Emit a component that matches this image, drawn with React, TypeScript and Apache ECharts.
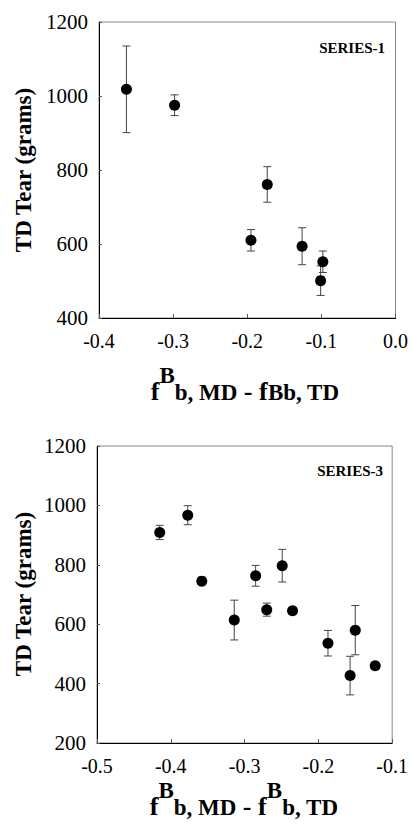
import React, { useEffect, useRef } from "react";
import * as echarts from "echarts";

// Series-1 (top panel)
const s1X = [-0.363, -0.298, -0.173, -0.195, -0.126, -0.098, -0.101];
const s1Y = [1018, 975, 761, 610, 594, 552, 501];
const s1Err = [117, 28, 48, 29, 50, 29, 40];

// Series-3 (bottom panel)
const s3X = [-0.415, -0.377, -0.358, -0.314, -0.285, -0.249, -0.27, -0.235, -0.187, -0.15, -0.157, -0.123];
const s3Y = [909, 967, 745, 614, 763, 797, 649, 645, 536, 580, 427, 460];
const s3Err = [24, 32, 0, 67, 35, 55, 22, 0, 43, 83, 65, 0];

const panelLabels = ["SERIES-1", "SERIES-3"];
const yTitle = "TD Tear (grams)";

const FONT = "Liberation Serif";

function errRender(params: any, api: any) {
  const x = api.value(0);
  const y = api.value(1);
  const e = api.value(2);
  if (!e) return { type: "group", children: [] };
  const top = api.coord([x, y + e]);
  const bot = api.coord([x, y - e]);
  const st = { stroke: "#444", lineWidth: 1 };
  return {
    type: "group",
    children: [
      { type: "line", shape: { x1: top[0], y1: top[1], x2: bot[0], y2: bot[1] }, style: st },
      { type: "line", shape: { x1: top[0] - 4, y1: top[1], x2: top[0] + 4, y2: top[1] }, style: st },
      { type: "line", shape: { x1: bot[0] - 4, y1: bot[1], x2: bot[0] + 4, y2: bot[1] }, style: st },
    ],
  };
}

function xTitle(x: number, y: number, raisedSecond: boolean) {
  const second = raisedSecond ? "{f| - f}{sup|B}{sub|b, TD}" : "{f| - f}{sub|Bb, TD}";
  return {
    type: "text",
    x,
    y,
    style: {
      text: "{f|f}{sup|B}{sub|b, MD}" + second,
      align: "center",
      verticalAlign: "bottom",
      rich: {
        f: { fontSize: 26, fontWeight: "bold", fontFamily: FONT, lineHeight: 26, verticalAlign: "bottom", fill: "#000" },
        sub: { fontSize: 23, fontWeight: "bold", fontFamily: FONT, lineHeight: 23, verticalAlign: "bottom", fill: "#000" },
        sup: { fontSize: 23, fontWeight: "bold", fontFamily: FONT, lineHeight: 23, padding: [0, 0, 17, 0], verticalAlign: "bottom", fill: "#000" },
      },
    },
  };
}

export default function App() {
  const ref = useRef<HTMLDivElement>(null);
  useEffect(() => {
    document.body.style.margin = "0";
    const chart = echarts.init(ref.current!, null, { renderer: "svg" });
    const xAxisBase = {
      type: "value",
      interval: 0.1,
      axisLine: { show: true, onZero: false, lineStyle: { color: "#000", width: 1 } },
      axisTick: { show: true, inside: true, length: 4, lineStyle: { color: "#555" } },
      splitLine: { show: false },
      axisLabel: { color: "#000", fontSize: 20, fontFamily: FONT, margin: 13, formatter: (v: number) => v.toFixed(1) },
    };
    const yAxisBase = {
      type: "value",
      interval: 200,
      axisLine: { show: true, onZero: false, lineStyle: { color: "#000", width: 1 } },
      axisTick: { show: true, inside: true, length: 3, lineStyle: { color: "#555" } },
      splitLine: { show: false },
      axisLabel: { color: "#000", fontSize: 21, fontFamily: FONT, margin: 11, formatter: (v: number) => String(v) },
    };
    chart.setOption({
      animation: false,
      backgroundColor: "#fff",
      textStyle: { fontFamily: FONT },
      grid: [
        { left: 99, top: 22, width: 297, height: 296, show: true, borderColor: "#888", borderWidth: 1 },
        { left: 97, top: 446, width: 297, height: 297, show: true, borderColor: "#888", borderWidth: 1 },
      ],
      xAxis: [
        { ...xAxisBase, gridIndex: 0, min: -0.4, max: 0 },
        { ...xAxisBase, gridIndex: 1, min: -0.5, max: -0.1 },
      ],
      yAxis: [
        { ...yAxisBase, gridIndex: 0, min: 400, max: 1200 },
        { ...yAxisBase, gridIndex: 1, min: 200, max: 1200 },
      ],
      series: [
        {
          type: "custom",
          xAxisIndex: 0,
          yAxisIndex: 0,
          renderItem: errRender,
          encode: { x: 0, y: 1 },
          data: s1X.map((x, i) => [x, s1Y[i], s1Err[i]]),
          z: 2,
        },
        {
          type: "custom",
          xAxisIndex: 1,
          yAxisIndex: 1,
          renderItem: errRender,
          encode: { x: 0, y: 1 },
          data: s3X.map((x, i) => [x, s3Y[i], s3Err[i]]),
          z: 2,
        },
        {
          type: "scatter",
          xAxisIndex: 0,
          yAxisIndex: 0,
          symbolSize: 11,
          itemStyle: { color: "#000", opacity: 1 },
          data: s1X.map((x, i) => [x, s1Y[i]]),
          z: 3,
        },
        {
          type: "scatter",
          xAxisIndex: 1,
          yAxisIndex: 1,
          symbolSize: 11,
          itemStyle: { color: "#000", opacity: 1 },
          data: s3X.map((x, i) => [x, s3Y[i]]),
          z: 3,
        },
      ],
      graphic: [
        {
          type: "text",
          x: 385,
          y: 48,
          style: { text: panelLabels[0], align: "right", verticalAlign: "middle", fontSize: 15, fontWeight: "bold", fontFamily: FONT, fill: "#000" },
        },
        {
          type: "text",
          x: 383,
          y: 471,
          style: { text: panelLabels[1], align: "right", verticalAlign: "middle", fontSize: 15, fontWeight: "bold", fontFamily: FONT, fill: "#000" },
        },
        {
          type: "text",
          x: 23,
          y: 170,
          rotation: Math.PI / 2,
          style: { text: yTitle, align: "center", verticalAlign: "middle", fontSize: 23, fontWeight: "bold", fontFamily: FONT, fill: "#000" },
        },
        {
          type: "text",
          x: 23,
          y: 594,
          rotation: Math.PI / 2,
          style: { text: yTitle, align: "center", verticalAlign: "middle", fontSize: 23, fontWeight: "bold", fontFamily: FONT, fill: "#000" },
        },
        xTitle(245, 404, false),
        xTitle(244, 819, true),
      ],
    });
    return () => chart.dispose();
  }, []);
  return <div ref={ref} style={{ position: "fixed", left: 0, top: 0, width: 411, height: 829 }} />;
}
